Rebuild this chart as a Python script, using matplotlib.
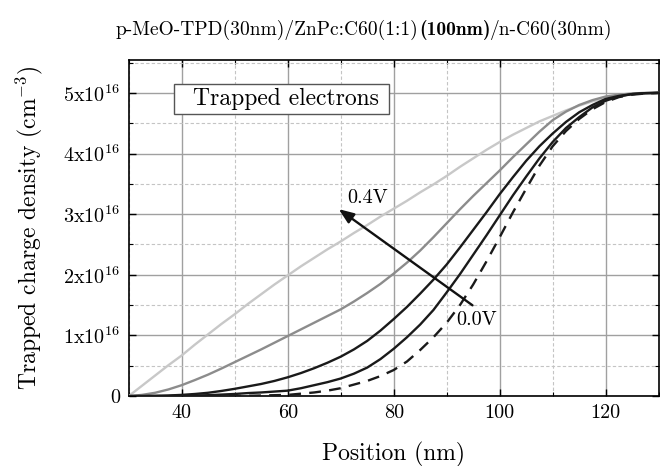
import numpy as np
import matplotlib
matplotlib.use("Agg")
import matplotlib.pyplot as plt
from matplotlib.ticker import MultipleLocator
from matplotlib.patches import Rectangle

plt.rcParams['font.family'] = 'cmr10'
plt.rcParams['mathtext.fontset'] = 'cm'
plt.rcParams['axes.unicode_minus'] = False

# position (nm), 2.5 nm steps
pos = [30, 32.5, 35, 37.5, 40, 42.5, 45, 47.5, 50, 52.5, 55, 57.5, 60, 62.5, 65, 67.5,
       70, 72.5, 75, 77.5, 80, 82.5, 85, 87.5, 90, 92.5, 95, 97.5, 100, 102.5, 105, 107.5,
       110, 112.5, 115, 117.5, 120, 122.5, 125, 127.5, 130]

# trapped electron density, in units of 1e16 cm^-3, from 0.4V down to 0.0V
v04 = [0, 0.17, 0.34, 0.51, 0.67, 0.85, 1.02, 1.19, 1.35, 1.52, 1.68, 1.84, 1.99, 2.14, 2.28, 2.42,
       2.55, 2.69, 2.82, 2.96, 3.09, 3.22, 3.36, 3.49, 3.63, 3.78, 3.92, 4.06, 4.19, 4.31, 4.42, 4.53,
       4.62, 4.71, 4.79, 4.86, 4.91, 4.95, 4.98, 4.995, 5.0]
v03 = [0, 0.02, 0.055, 0.11, 0.18, 0.265, 0.355, 0.455, 0.56, 0.665, 0.77, 0.88, 0.99, 1.10, 1.21, 1.32,
       1.43, 1.56, 1.70, 1.85, 2.02, 2.20, 2.40, 2.62, 2.85, 3.08, 3.30, 3.51, 3.72, 3.94, 4.15, 4.36,
       4.55, 4.69, 4.80, 4.88, 4.94, 4.97, 4.99, 5.0, 5.0]
v02 = [0, 0.002, 0.005, 0.01, 0.02, 0.035, 0.055, 0.085, 0.12, 0.16, 0.20, 0.25, 0.31, 0.38, 0.46, 0.55,
       0.65, 0.77, 0.91, 1.08, 1.27, 1.47, 1.69, 1.92, 2.17, 2.45, 2.74, 3.03, 3.33, 3.61, 3.88, 4.12,
       4.33, 4.52, 4.68, 4.80, 4.90, 4.95, 4.98, 4.995, 5.0]
v01 = [0, 0.0, 0.0, 0.002, 0.005, 0.01, 0.015, 0.025, 0.035, 0.05, 0.06, 0.075, 0.09, 0.13, 0.18, 0.23,
       0.29, 0.37, 0.47, 0.61, 0.78, 0.97, 1.18, 1.42, 1.71, 2.01, 2.33, 2.65, 2.98, 3.31, 3.62, 3.92,
       4.19, 4.42, 4.60, 4.76, 4.87, 4.94, 4.98, 4.995, 5.0]
v00 = [0, 0.0, 0.0, 0.0, 0.0, 0.0, 0.0, 0.0, 0.0, 0.005, 0.01, 0.015, 0.02, 0.04, 0.06, 0.09,
       0.13, 0.19, 0.25, 0.33, 0.43, 0.57, 0.76, 0.97, 1.21, 1.50, 1.84, 2.22, 2.62, 3.03, 3.42, 3.80,
       4.12, 4.37, 4.57, 4.73, 4.85, 4.93, 4.97, 4.99, 5.0]

yticks = [0, 1, 2, 3, 4, 5]
ytick_labels = ['0', r'1x10$^{16}$', r'2x10$^{16}$', r'3x10$^{16}$', r'4x10$^{16}$', r'5x10$^{16}$']
xticks = [40, 60, 80, 100, 120]

fig = plt.figure(figsize=(6.6, 4.66), dpi=100)
ax = fig.add_axes([0.195, 0.150, 0.803, 0.721])

scale = 1e16
x = np.array(pos)
ax.plot(x, np.array(v04) * scale, color='#c8c8c8', lw=1.7, zorder=3)
ax.plot(x, np.array(v03) * scale, color='#8c8c8c', lw=1.7, zorder=3)
ax.plot(x, np.array(v02) * scale, color='#1a1a1a', lw=1.7, zorder=3)
ax.plot(x, np.array(v01) * scale, color='#1a1a1a', lw=1.7, zorder=3)
ax.plot(x, np.array(v00) * scale, color='#1a1a1a', lw=1.7, ls=(0, (5, 3.5)), zorder=3)

ax.set_xlim(30, 130)
ax.set_ylim(0, 5.54e16)
ax.set_xticks(xticks)
ax.xaxis.set_minor_locator(MultipleLocator(10))
ax.set_yticks([t * scale for t in yticks])
ax.set_yticklabels(ytick_labels)
ax.yaxis.set_minor_locator(MultipleLocator(0.5e16))

ax.grid(which='major', color='#a0a0a0', lw=1.0, ls='-', zorder=0)
ax.grid(which='minor', color='#c4c4c4', lw=0.8, ls=(0, (3, 2)), zorder=0)
ax.tick_params(which='both', direction='in', top=True, right=True, labelsize=14.5, pad=6)
ax.tick_params(which='major', length=5, width=1.0)
ax.tick_params(which='minor', length=3, width=0.8)
for s in ax.spines.values():
    s.set_linewidth(1.2)

ax.set_xlabel('Position (nm)', fontsize=17, labelpad=14)
ax.set_ylabel(r'Trapped charge density (cm$^{-3}$)', fontsize=17, labelpad=13)

# title in three pieces, middle one bold
renderer = fig.canvas.get_renderer()
title_parts = [('p-MeO-TPD(30nm)/ZnPc:C60(1:1)', 'cmr10'),
               ('(100nm)', 'cmb10'),
               ('/n-C60(30nm)', 'cmr10')]
x_px = 116
for txt, fam in title_parts:
    t = fig.text(x_px / 660, 0.936, txt, fontfamily=fam, fontsize=14, ha='left', va='center')
    x_px += t.get_window_extent(renderer).width

# label box
ax.add_patch(Rectangle((38.5, 4.65e16), 40.6, 0.49e16, fc='white', ec='#555555', lw=1.0, zorder=5))
ax.text(42.1, 4.90e16, 'Trapped electrons', fontsize=17, ha='left', va='center', zorder=6)

ax.annotate('', xy=(69.2, 3.11e16), xytext=(95.3, 1.47e16),
            arrowprops=dict(arrowstyle='-|>,head_length=0.9,head_width=0.35', color='#111111', lw=1.7),
            zorder=6)
ax.text(71.3, 3.27e16, '0.4V', fontsize=14.5, ha='left', va='center', zorder=6)
ax.text(91.8, 1.25e16, '0.0V', fontsize=14.5, ha='left', va='center', zorder=6)

fig.savefig('out.png', dpi=100)
